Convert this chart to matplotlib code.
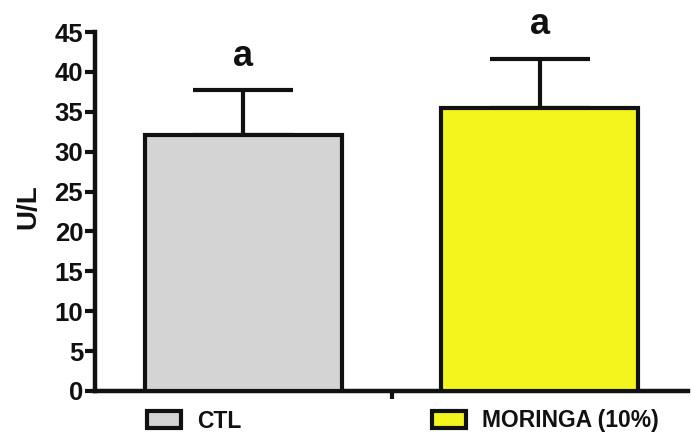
import matplotlib
matplotlib.use("Agg")
import matplotlib.pyplot as plt
from matplotlib.patches import Patch

# values
groups = ["CTL", "MORINGA (10%)"]
means = [32.1, 35.5]
sds = [5.6, 6.1]
letters = ["a", "a"]
colors = ["#d4d4d4", "#f5f51e"]
yticks = [0, 5, 10, 15, 20, 25, 30, 35, 40, 45]

plt.rcParams['font.family'] = ['Liberation Sans', 'DejaVu Sans']
plt.rcParams['font.weight'] = 'bold'

fig = plt.figure(figsize=(6.91, 4.38), dpi=100)
ax = fig.add_axes([95 / 691, 1 - 391 / 438, (688 - 95) / 691, (391 - 32) / 438])

x = list(range(len(groups)))
ax.bar(x, means, width=0.665, color=colors, edgecolor="#111111", linewidth=3, zorder=3)
ax.errorbar(x, means, yerr=[[0] * len(sds), sds], fmt="none", ecolor="#111111",
            elinewidth=3, capsize=36, capthick=3, zorder=2)
for xi, m, s, lab in zip(x, means, sds, letters):
    ax.text(xi, m + s + 3.1, lab, ha="center", va="baseline", fontsize=26,
            fontweight="bold", color="#111111", clip_on=False)

ax.set_xlim(-0.5, 1.5)
ax.set_ylim(0, 45)
ax.set_yticks(yticks)
ax.set_xticks([0.5])
ax.set_xticklabels([""])
ax.tick_params(axis="y", labelsize=18.5, width=3, length=7, pad=1.5, colors="#111111")
ax.tick_params(axis="x", width=3, length=6, colors="#111111")
for lbl in ax.get_yticklabels():
    lbl.set_fontweight("bold")
for side in ["top", "right"]:
    ax.spines[side].set_visible(False)
for side in ["left", "bottom"]:
    ax.spines[side].set_linewidth(3.2)
    ax.spines[side].set_color("#111111")
fig.text(28 / 691, 1 - 207 / 438, "U/L", rotation=90, ha="center", va="center",
         fontsize=20, fontweight="bold", color="#111111")

# two separate legend entries under the bars
anchors = [(147 / 691, 1 - 421 / 438), (432 / 691, 1 - 421 / 438)]
for g, c, anc in zip(groups, colors, anchors):
    h = Patch(facecolor=c, edgecolor="#111111", linewidth=3)
    leg = fig.legend([h], [g], loc="center left", bbox_to_anchor=anc, frameon=False,
                     borderpad=0, borderaxespad=0, handlelength=1.5, handleheight=0.8,
                     handletextpad=0.7, prop={"size": 16.5, "weight": "bold"})
    for t in leg.get_texts():
        t.set_color("#111111")

fig.savefig("out.png", dpi=100)
